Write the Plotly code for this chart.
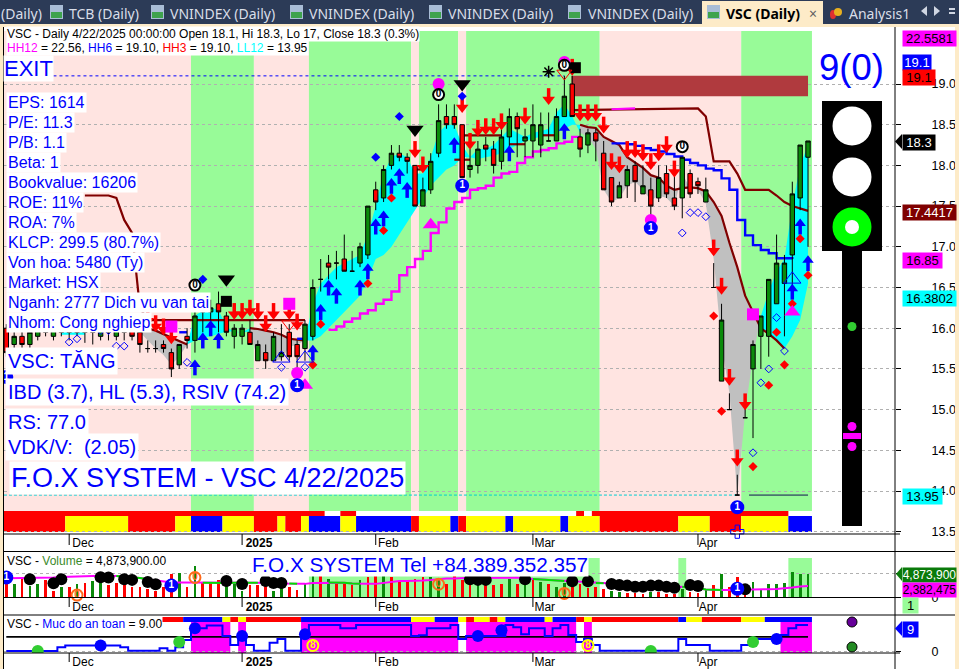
import plotly.graph_objects as go

W, H = 959, 669
def fx(px): return px / W
def fy(py): return 1 - py / H

# ---------- DATA ----------
opens = [16.0,15.8,15.9,15.8,15.9,16.05,15.9,16.0,15.95,16.0,
 15.95,16.0,15.9,16.05,15.9,16.05,16.0,15.95,15.75,15.75,
 15.8,15.7,15.55,15.9,15.85,16.25,16.2,16.3,16.15,15.9,
 15.9,15.95,15.6,15.7,15.6,15.65,15.95,15.8,15.75,15.9,
 16.6,16.8,16.8,16.85,16.7,16.8,16.9,17.7,17.6,18.0,
 18.15,18.1,18.0,17.5,17.7,18.15,18.6,18.6,18.5,17.95,
 18.0,18.25,18.2,18.05,18.35,18.6,18.3,18.3,18.25,18.3,
 18.3,18.6,19.0,18.35,18.25,18.4,18.15,17.85,17.6,17.75,
 18.0,17.65,17.7,17.6,17.9,17.6,17.6,17.9,17.8,17.55,
 16.5,15.35,15.0,13.95,14.9,15.5,15.9,15.9,16.3,16.55,
 16.9,17.6,18.1]
highs = [16.05,16.0,16.0,16.05,16.1,16.1,16.05,16.1,16.05,16.1,
 16.05,16.1,16.05,16.1,16.1,16.1,16.05,16.0,15.85,15.85,
 15.85,15.75,15.8,16.0,16.2,16.3,16.35,16.45,16.2,16.05,
 16.05,16.1,15.85,15.8,15.95,16.05,16.05,15.85,16.1,16.6,
 16.85,16.9,16.95,17.15,16.95,17.05,17.5,17.8,18.0,18.25,
 18.25,18.15,18.0,17.85,18.15,18.75,18.75,18.75,18.5,18.2,
 18.3,18.35,18.3,18.5,18.7,18.65,18.45,18.75,18.65,18.65,
 18.7,19.1,19.1,18.45,18.45,18.45,18.3,17.85,17.8,18.0,
 18.05,18.0,17.85,18.0,18.0,18.0,18.1,17.95,17.85,17.85,
 16.8,16.3,15.2,14.2,15.1,15.85,16.15,16.6,17.15,16.9,
 17.8,18.25,18.3]
lows = [15.65,15.7,15.7,15.7,15.85,15.9,15.85,15.9,15.85,15.9,
 15.82,15.8,15.85,15.85,15.85,15.85,15.85,15.7,15.7,15.7,
 15.7,15.4,15.5,15.75,15.7,15.95,16.05,15.95,15.9,15.75,
 15.8,15.8,15.6,15.5,15.6,15.6,15.6,15.45,15.6,15.85,
 16.45,16.6,16.6,16.7,16.7,16.75,16.85,17.45,17.55,17.95,
 18.05,17.9,17.5,17.5,17.65,18.1,18.45,18.45,17.85,17.85,
 17.9,18.05,17.9,17.95,18.2,18.1,18.1,18.1,18.1,18.3,
 18.3,18.6,18.6,18.1,18.15,18.05,17.7,17.5,17.6,17.6,
 17.55,17.65,17.3,17.55,17.6,17.45,17.35,17.6,17.65,17.55,
 16.5,15.35,15.0,13.95,14.9,14.65,15.5,15.65,16.3,15.9,
 16.5,17.45,17.0]
closes = [15.7,15.9,15.8,15.95,16.0,15.95,16.0,15.95,16.0,15.95,
 16.0,15.95,16.0,15.95,16.0,15.95,15.9,15.8,15.75,15.75,
 15.75,15.5,15.8,15.85,16.15,16.2,16.25,16.2,15.95,16.0,
 16.0,15.8,15.8,15.6,15.9,15.7,15.65,15.65,16.05,16.5,
 16.6,16.75,16.8,16.7,16.7,17.0,17.5,17.55,17.95,18.15,
 18.1,18.05,17.5,17.7,18.05,18.55,18.5,18.5,17.85,18.0,
 18.2,18.2,18.0,18.35,18.6,18.45,18.35,18.5,18.5,18.3,
 18.6,18.85,18.6,18.2,18.4,18.3,17.7,17.55,17.75,17.95,
 17.8,17.75,17.5,17.85,17.65,17.5,18.1,17.65,17.75,17.7,
 16.5,16.1,15.0,13.95,14.9,15.8,16.15,16.6,16.8,16.8,
 17.65,18.25,18.3]

volume_m = [5.02,2.93,3.97,2.37,2.79,3.62,1.53,2.23,2.23,2.79,
 3.07,3.49,3.97,2.58,3.07,3.28,2.23,2.23,1.88,1.53,
 2.23,5.02,5.16,2.23,6.55,3.28,3.28,3.76,2.93,2.93,
 1.39,2.58,2.58,2.58,1.53,2.93,2.23,1.74,2.93,4.46,
 4.46,3.97,3.28,2.93,2.58,3.62,4.32,4.67,4.81,4.32,
 3.28,3.62,3.97,4.32,4.32,3.62,2.93,4.67,3.62,2.58,
 3.0,3.28,2.58,2.93,3.97,2.93,2.93,3.76,3.28,2.93,
 2.23,3.07,2.23,2.93,2.02,2.23,1.88,1.39,1.18,1.05,
 1.05,0.84,1.18,1.18,0.84,0.84,1.88,1.18,0.98,1.88,
 2.58,5.02,2.23,4.32,2.58,3.28,1.67,2.93,2.93,3.14,
 5.37,4.88,4.8739]
volume_dir = list("rgrggrrgrg" "rggrrrrrrr" "rrgrgrrrgg"
                  "grrrggrrgg" "rgrrrgrrgr" "rrrrggrrrr"
                  "grrrgrgrgr" "ggrrrrrggr" "rrgrrrgrrg"
                  "rgrrrggggg" "ggg")
volume_avg = [3.97,3.97,3.97,4.0,4.0,4.05,4.1,4.2,4.3,4.3,
 4.35,4.4,4.45,4.45,4.4,4.3,4.2,4.0,3.75,3.55,
 3.3,3.1,3.1,3.1,3.05,3.05,3.0,3.0,3.0,3.05,
 3.05,3.05,3.05,3.05,3.0,2.9,2.9,2.8,2.8,3.0,
 3.0,3.1,3.1,3.05,2.9,2.8,2.8,2.8,3.0,3.2,
 3.4,3.4,3.4,3.5,3.6,3.8,3.9,3.9,4.0,4.05,
 4.0,4.05,4.05,4.1,4.1,4.1,3.9,3.8,3.75,3.55,
 3.5,3.4,3.3,3.25,3.1,3.0,2.95,2.9,2.85,2.8,
 2.7,2.6,2.55,2.5,2.4,2.3,2.2,2.1,1.9,1.65,
 1.55,1.55,1.55,1.55,1.55,1.6,1.65,1.7,1.75,1.85,
 2.05,2.25,2.38]
avg_green_runs = [(14,18),(25,32),(36,37),(41,45),(67,71),(75,76),(86,91)]

safety = [0.2,0.2,0.2,0.2,0.2,0.2,0.2,1.5,2.1,2.1,
 2.1,2.1,2.1,2.1,2.1,1.5,0.3,0.3,0.3,0.3,
 1.2,0.3,1.5,3.9,7.9,7.9,8.8,8.8,5.3,2.25,
 5.3,2.25,0.3,0.3,3.0,4.3,0.3,0.3,5.6,9,
 9,9,9,7.9,7.9,9,9,9,9,9,
 9,9,5.3,5.5,7.9,7.9,7.9,9,4.3,5.3,
 5.3,5.3,5.3,5.3,9,8.2,5.9,7.9,7.9,5.3,
 7.9,9,5.6,3.3,4.3,2.25,0.3,0.3,0.3,0.3,
 0.3,0.3,0.3,0.3,0.3,0.3,4.3,2.25,2.25,2.25,
 0.3,0.3,0.3,0.3,2.25,3.3,4.3,4.3,4.3,5.6,
 7.9,9,9]
safety_level = 5

N = None
ribbon_fast = [N,N,N,N,N,N,N,15.98,15.98,15.98,
 15.95,N,N,N,N,N,N,15.95,15.85,15.75,
 15.67,15.55,15.65,15.8,16.15,16.22,16.25,16.22,16.02,15.95,
 15.95,15.96,15.6,15.6,15.6,15.62,15.77,15.8,15.85,16.3,
 16.55,16.65,16.75,16.8,16.85,16.9,17.15,17.5,17.9,18.1,
 18.15,18.1,17.9,17.9,18.1,18.4,18.5,18.5,18.25,18.1,
 18.2,18.2,18.25,18.35,18.45,18.4,18.35,18.4,18.42,18.45,
 18.65,18.75,18.6,18.4,18.35,18.2,17.7,17.55,17.6,17.75,
 17.8,17.7,17.57,17.63,17.6,17.5,17.9,17.72,17.7,17.53,
 16.85,15.8,15.2,13.95,14.97,15.65,16.15,16.45,16.7,16.85,
 17.5,18.0,18.25]
ribbon_slow = [N,N,N,N,N,N,N,15.92,15.92,15.92,
 15.92,N,N,N,N,N,N,16.02,16.0,15.97,
 15.93,15.88,15.84,15.8,15.85,15.88,15.9,15.93,15.96,15.96,
 15.95,16.0,15.99,15.97,15.95,15.92,15.87,15.86,15.85,15.85,
 15.9,16.0,16.1,16.2,16.3,16.4,16.6,16.85,16.9,17.0,
 17.15,17.3,17.45,17.6,17.75,17.85,17.95,18.0,18.1,18.1,
 18.08,18.1,18.12,18.15,18.2,18.25,18.3,18.33,18.35,18.37,
 18.4,18.45,18.5,18.5,18.47,18.46,18.35,18.3,18.25,18.1,
 18.03,17.97,17.88,17.85,17.75,17.7,17.72,17.73,17.72,17.68,
 17.55,17.38,17.05,16.75,16.4,16.2,16.0,15.93,15.85,15.75,
 15.9,16.1,16.55]
ribbon_runs = [(7,10,"#00FFFF"),(17,23,"#C0C0C0"),(23,31,"#00FFFF"),(31,38,"#C0C0C0"),
               (38,73,"#00FFFF"),(73,96,"#C0C0C0"),(96,102,"#00FFFF")]

stop_i = [10,11,12,13,14,15,16,17,18,38]
stop_p = [17.63,17.63,17.63,17.63,17.6,17.33,17.17,16.25,16.1,16.1]
ceil_i = [72,88,89,90,92,93,94,97,98,99,100,102]
ceil_p = [18.68,18.7,18.6,18.05,18.05,17.9,17.7,17.7,17.63,17.55,17.5,17.4417]
ceil_magenta_i = [77,80]
ceil_magenta_p = [18.69,18.7]
short_levels = [(52,53,17.95),(57,59,18.07),(58,63,18.37),(64,66,18.26),(68,70,18.37)]
blue_i = list(range(77,101))
blue_p = [18.27,18.27,18.26,18.24,18.21,18.19,18.17,18.14,18.11,18.07,18.03,18.0,
          17.96,17.94,17.84,17.7,17.33,17.14,17.02,16.96,16.92,16.86,16.86,16.85]
blue_short = [(22,23,15.95),(37,38,15.87)]
trail_i = list(range(41,74))
trail_p = [15.98,16.02,16.08,16.12,16.18,16.22,16.3,16.35,16.45,16.65,16.75,16.85,
           16.95,17.17,17.3,17.47,17.55,17.6,17.7,17.72,17.75,17.85,17.9,17.92,18.03,
           18.1,18.17,18.19,18.21,18.27,18.29,18.35,18.36]

red_arrow_i = [18,19,20,21,29,30,31,32,33,34,36,37,52,53,58,59,60,61,62,63,66,69,72,73,74,75,76,77,78,79,80,81,82,83,84,85,90,91,92,93,94]
red_arrow_p = [16.02,15.95,15.91,15.8,16.1,16.1,16.14,16.1,15.95,16.1,16.1,15.97,18.09,17.9,18.64,18.19,18.35,18.37,18.37,18.43,18.5,18.74,19.1,18.54,18.54,18.54,18.39,17.94,17.9,18.09,18.09,18.05,17.94,18.05,18.15,17.85,16.88,16.41,15.29,14.3,14.99]
blue_arrow_i = [24,25,26,27,39,40,41,42,45,46,47,48,49,50,51,57,64,71,100,101,102]
blue_arrow_p = [15.62,15.95,16.1,15.95,15.8,16.3,16.6,16.5,16.6,16.8,17.35,17.45,17.85,17.97,17.8,18.35,18.25,18.52,16.55,17.35,16.9]
red_dia_i = [39,40,46,48,49,90,91,95,97,98,99,100,101,102]
red_dia_p = [15.55,16.05,16.55,17.2,17.6,16.15,14.98,14.3,15.3,15.95,15.55,16.3,17.1,16.65]
blue_dia_i = [21,25,47,50,58]
blue_dia_p = [16.02,16.6,18.1,18.6,18.85]
open_dia_i = [8,9,12,13,14,15,23,35,38,86,87,88,89,95,96,97,98,99]
open_dia_p = [15.83,15.87,15.97,15.97,15.78,15.78,15.58,15.52,15.52,17.17,17.42,17.42,17.37,14.47,15.33,15.5,16.13,15.72]
open_tri_i = [35,38,100]
open_tri_p = [15.63,15.63,16.6]
black_tri_i = [28,52,58]
black_tri_p = [16.6,18.44,19.0]
mag_tri_i = [38,54,100]
mag_tri_p = [15.3,17.27,16.2]
mag_sq_i = [21,36,95]
mag_sq_p = [16.02,16.3,16.17]
black_sq_i = [28,72.4]
black_sq_p = [16.33,19.2]
mag_dot_i = [37,55,71,82]
mag_dot_p = [15.45,19.0,19.27,17.33]
open_red_tri_i = [36,71]
open_red_tri_p = [16.05,19.13]
star_i = [69]
star_p = [19.15]
cross_i = [93]
cross_p = [13.5]
main_one_i = [0,37,58,82,93]
main_one_p = [15.4,15.3,17.75,17.23,13.8]
main_zero_i = [24,55,71,86]
main_zero_p = [16.53,18.87,19.23,18.23]

vol_dot_i = [3,6,7,12,13,15,16,18,19,28,30,33,34,35,59,60,61,66,72,74,77,78,79,80,81,82,83,84,85,87,88,94]
vol_dot_v = [3.76,2.93,3.76,4.18,4.11,3.76,3.62,3.2,2.72,3.41,2.79,3.41,3.0,3.0,3.76,3.62,3.62,3.76,3.35,3.35,2.79,2.58,2.44,2.23,2.23,2.44,2.44,2.23,2.02,2.58,2.37,1.67]
vol_one_i = [0,21,37,82,93]
vol_one_v = [4.1,2.44,-0.77,-1.46,1.81]
vol_zero_i = [9,24,55,71,86]
vol_zero_v = [0.49,4.11,2.72,0.84,-0.98]

saf_one_i = [0,21,37,58,82,93]
saf_zero_i = [9,24,55,71]
saf_nine_i = [39,86,100]
saf_label_v = -3
saf_eight_i = [39,74]
saf_eight_v = [2.1,2.1]
saf_green_i = [4,22,82,95]
saf_green_v = [0.2,3.3,0.2,3.3]
saf_blue_i = [12,24,30,38,60,63,98]
saf_blue_v = [2.1,7.9,5.3,5.9,5.3,7.2,4.3]

month_first_bar = [8,30,47,67,88]
month_label_pos = [9.76,32.15,48.6,68.5,89.3]
month_labels = ["Dec","<b>2025</b>","Feb","Mar","Apr"]
price_ticks = [13.5,14.0,14.5,15.0,15.5,16.0,16.5,17.0,17.5,18.0,18.5,19.0]

bg_runs = [(-0.35,23.5,"#FFE4E1"),(23.5,31.5,"#98FB98"),(31.5,38.5,"#FFE4E1"),(38.5,51.5,"#98FB98"),
           (51.5,52.5,"#FFE4E1"),(52.5,57.5,"#98FB98"),(57.5,58.5,"#FFE4E1"),(58.5,75.5,"#98FB98"),
           (75.5,93.5,"#FFE4E1"),(93.5,102.5,"#98FB98")]
R,Y,B = "#FF0000","#FFFF00","#0000FF"
strip_low = [(-0.3,7.5,R),(7.5,15.5,Y),(15.5,21.5,R),(21.5,23.5,Y),(23.5,27.5,B),(27.5,31.5,Y),(31.5,34.5,R),
             (34.5,35.5,Y),(35.5,37.5,R),(37.5,38.5,Y),(38.5,42.5,B),(42.5,44.5,Y),(44.5,51.5,B),(51.5,52.5,R),
             (52.5,56.5,Y),(56.5,57.5,B),(57.5,58.5,R),(58.5,63.5,Y),(63.5,64.5,B),(64.5,70.5,Y),(70.5,71.5,B),
             (71.5,75.5,Y),(75.5,85.5,R),(85.5,89.5,Y),(89.5,93.5,R),(93.5,99.5,Y),(99.5,102.5,B)]
strip_top = [(-0.3,40.5,R),(42.5,44.5,R),(72.5,73.5,R),(74.5,99.5,R)]
saf_strip = [(19.5,22.5,R),(22.5,27.5,B),(27.5,28.5,Y),(28.5,29.5,R),(29.5,30.5,Y),(30.5,37.5,R),(37.5,51.5,B),
             (51.5,54.5,Y),(54.5,57.5,B),(57.5,58.5,Y),(58.5,59.5,R),(59.5,61.5,Y),(61.5,62.5,R),(62.5,63.5,Y),
             (63.5,68.5,B),(68.5,69.5,Y),(69.5,72.5,B),(72.5,73.5,R),(73.5,74.5,Y),(74.5,85.5,R),(85.5,86.5,B),
             (86.5,88.5,Y),(88.5,93.5,R),(93.5,96.5,Y),(96.5,102.5,B)]
saf_magenta = [(23.5,28.5),(29.5,30.5),(37.5,57.5),(58.5,72.5),(73.5,74.5),(98.5,102.5)]
vol_green = [(38.5,75.5),(85.5,86.5),(99.5,102.5)]
zone_i = (71.9,102)
zone_p = (18.85,19.1)
exit_level = 19.1
low_level = 13.95

info_lines = [("EPS: 1614",102),("P/E: 11.3",122),("P/B: 1.1",142),("Beta: 1",162),("Bookvalue: 16206",182),
              ("ROE: 11%",202),("ROA: 7%",222),("KLCP: 299.5 (80.7%)",242),("Von hoa: 5480 (Ty)",262),
              ("Market: HSX",282),("Nganh: 2777 Dich vu van tai",302),("Nhom: Cong nghiep",322)]
big_lines = [("VSC: TĂNG",361,20),("IBD (3.7), HL (5.3), RSIV (74.2)",392,20),("RS: 77.0",422,20),("VDK/V:  (2.05)",447,20)]
tab_labels = [("(Daily)",0),("TCB (Daily)",68),("VNINDEX (Daily)",169),("VNINDEX (Daily)",308),("VNINDEX (Daily)",447),("VNINDEX (Daily)",587)]
tab_icons = [50,151,290,429,568,707]

# ---------- GEOMETRY ----------
def i_of(px): return (px - 6.3) / 7.86
def p_of(py): return 19 - (py - 84) / 81.4
XR = [i_of(4), i_of(895)]
YR = [p_of(534), p_of(27)]
VOLR = [0, 9.45]
SAFR = [(651.7-653)/2.97, (651.7-615)/2.97]
FONT = "Liberation Sans"

fig = go.Figure()
MAIN = dict(xaxis="x", yaxis="y")
CAND = dict(xaxis="x", yaxis="y4")
MARK = dict(xaxis="x", yaxis="y5")
VOL = dict(xaxis="x2", yaxis="y2")
SAF = dict(xaxis="x3", yaxis="y3")

# ribbons
for a, b, col in ribbon_runs:
    xs = list(range(a, b+1))
    fig.add_trace(go.Scatter(x=xs, y=ribbon_slow[a:b+1], mode="lines", line=dict(width=0), hoverinfo="skip", showlegend=False, **MAIN))
    fig.add_trace(go.Scatter(x=xs, y=ribbon_fast[a:b+1], mode="lines", line=dict(width=0), fill="tonexty", fillcolor=col, hoverinfo="skip", showlegend=False, **MAIN))

def line(xs, ys, color, width=2.2, shape="linear", dash=None, axes=MAIN):
    fig.add_trace(go.Scatter(x=xs, y=ys, mode="lines", line=dict(color=color, width=width, shape=shape, dash=dash),
                             hoverinfo="skip", showlegend=False, **axes))

# dark red line through the declines
dr = [ribbon_slow[i] if (17 <= i <= 23 or 31 <= i <= 38 or 73 <= i <= 99) else None for i in range(103)]
line(list(range(103)), dr, "#800000", 2.2)
line(stop_i, stop_p, "#800000", 2.2)
line(ceil_i, ceil_p, "#800000", 2.2)
line(ceil_magenta_i, ceil_magenta_p, "#FF00FF", 2.2)
for a, b, v in short_levels:
    line([a, b], [v, v], "#800000", 2.2)
line(blue_i, blue_p, "#0000FF", 2.4, shape="hv")
for a, b, v in blue_short:
    line([a, b], [v, v], "#0000FF", 2.4)
line(trail_i, trail_p, "#FF00FF", 2.4, shape="hv")
line([6, 71], [exit_level]*2, "#0000FF", 1, dash="3px,3px")
line([-0.3, 93], [low_level]*2, "#00CED1", 1, dash="3px,2px")
line([94.5, 102], [low_level]*2, "#101050", 1)

# candles
fig.add_trace(go.Candlestick(x=list(range(103)), open=opens, high=highs, low=lows, close=closes,
    increasing=dict(line=dict(color="#000000", width=1), fillcolor="#0A8A0A"),
    decreasing=dict(line=dict(color="#000000", width=1), fillcolor="#FF0000"),
    whiskerwidth=0, hoverinfo="skip", showlegend=False, **CAND))

# markers
def mark(xs, ys, symbol, color, size, lw=0, lc=None):
    fig.add_trace(go.Scatter(x=xs, y=ys, mode="markers", marker=dict(symbol=symbol, color=color, size=size,
        line=dict(width=lw, color=lc or color)), cliponaxis=False, hoverinfo="skip", showlegend=False, **MARK))

mark(red_arrow_i, [p+0.14 for p in red_arrow_p], "line-ns", "#FF0000", 8, 3.5, "#FF0000")
mark(red_arrow_i, [p+0.07 for p in red_arrow_p], "triangle-down", "#FF0000", 11)
mark(blue_arrow_i, [p-0.13 for p in blue_arrow_p], "line-ns", "#0000FF", 8, 3.5, "#0000FF")
mark(blue_arrow_i, [p-0.065 for p in blue_arrow_p], "triangle-up", "#0000FF", 10)
mark(red_dia_i, red_dia_p, "diamond", "#FF0000", 7)
mark(blue_dia_i, blue_dia_p, "diamond", "#0000FF", 7)
mark(open_dia_i, open_dia_p, "diamond-open", "#0000FF", 6, 1, "#0000FF")
mark(open_tri_i, open_tri_p, "triangle-up-open", "#0000FF", 15, 1, "#0000FF")
mark(black_tri_i, black_tri_p, "triangle-down", "#000000", 15)
mark(mag_tri_i, mag_tri_p, "triangle-up", "#FF00FF", 14)
mark(mag_sq_i, mag_sq_p, "square", "#FF00FF", 12)
mark(black_sq_i, black_sq_p, "square", "#000000", 11)
mark(mag_dot_i, mag_dot_p, "circle", "#FF00FF", 12)
mark(open_red_tri_i, open_red_tri_p, "triangle-down-open", "#FF0000", 13, 1, "#FF0000")
mark(star_i, star_p, "asterisk-open", "#000000", 10, 1.5, "#000000")
mark(cross_i, cross_p, "cross-open", "#0000FF", 11, 1, "#0000FF")

def nums(xs, ys, label, fill, ring, tcol, axes, size=12):
    fig.add_trace(go.Scatter(x=xs, y=ys, mode="markers+text", text=[label]*len(xs), textposition="middle center",
        textfont=dict(family=FONT, size=10, color=tcol),
        marker=dict(symbol="circle", size=size, color=fill, line=dict(color=ring, width=2)),
        cliponaxis=False, hoverinfo="skip", showlegend=False, **axes))

nums(main_one_i, main_one_p, "<b>1</b>", "#0000FF", "#0000FF", "#FFFFFF", MARK)
nums(main_zero_i, main_zero_p, "<b>0</b>", "#FFFFFF", "#000000", "#000000", MARK, 11)

# volume
fig.add_trace(go.Bar(x=list(range(103)), y=volume_m, width=0.34,
    marker=dict(color=["#FF0000" if d == "r" else "#0A8A0A" for d in volume_dir], line=dict(width=0)),
    hoverinfo="skip", showlegend=False, **VOL))
line(list(range(103)), volume_avg, "#FF00FF", 2, axes=VOL)
green_avg = [volume_avg[i] if any(a <= i <= b for a, b in avg_green_runs) else None for i in range(103)]
line(list(range(103)), green_avg, "#00E000", 2, axes=VOL)
fig.add_trace(go.Scatter(x=vol_dot_i, y=vol_dot_v, mode="markers", marker=dict(color="#000000", size=12),
                         hoverinfo="skip", showlegend=False, **VOL))
nums(vol_one_i, vol_one_v, "<b>1</b>", "#0000FF", "#0000FF", "#FFFFFF", VOL)
nums(vol_zero_i, vol_zero_v, "<b>0</b>", "rgba(0,0,0,0)", "#FF6A1A", "#FF6A1A", VOL, 11)

# safety
line([0, 102], [safety_level]*2, "#000000", 1.8, axes=SAF)
line(list(range(103)), safety, "#0000FF", 2, shape="hvh", axes=SAF)
fig.add_trace(go.Scatter(x=saf_green_i, y=saf_green_v, mode="markers", marker=dict(color="#32CD32", size=12), hoverinfo="skip", showlegend=False, **SAF))
fig.add_trace(go.Scatter(x=saf_blue_i, y=saf_blue_v, mode="markers", marker=dict(color="#0000FF", size=12), hoverinfo="skip", showlegend=False, **SAF))
nums(saf_one_i, [saf_label_v]*len(saf_one_i), "<b>1</b>", "#0000FF", "#0000FF", "#FFFFFF", SAF)
nums(saf_zero_i, [saf_label_v]*len(saf_zero_i), "<b>0</b>", "#FFFFFF", "#FF6A1A", "#FF6A1A", SAF, 11)
nums(saf_nine_i, [saf_label_v]*len(saf_nine_i), "<b>9</b>", "#000000", "#000000", "#FFFFFF", SAF)
nums(saf_eight_i, saf_eight_v, "<b>8</b>", "rgba(0,0,0,0)", "#FFFF00", "#FFFF00", SAF, 11)

# ---------- SHAPES ----------
shapes = []
def rect(x0, x1, y0, y1, color, xref="paper", yref="paper", layer="between"):
    shapes.append(dict(type="rect", x0=x0, x1=x1, y0=y0, y1=y1, xref=xref, yref=yref, fillcolor=color,
                       line=dict(width=0), layer=layer))
def prect(x0, x1, y0, y1, color, layer="above"):
    rect(fx(x0), fx(x1), fy(y1), fy(y0), color, layer=layer)
def pline(x0, x1, y0, y1, color="#000000", w=1):
    shapes.append(dict(type="line", x0=fx(x0), x1=fx(x1), y0=fy(y0), y1=fy(y1), xref="paper", yref="paper",
                       line=dict(color=color, width=w), layer="above"))
def pcircle(cx, cy, r, color, lc=None):
    shapes.append(dict(type="circle", x0=fx(cx-r), x1=fx(cx+r), y0=fy(cy+r), y1=fy(cy-r), xref="paper", yref="paper",
                       fillcolor=color, line=dict(width=1 if lc else 0, color=lc or color), layer="above"))
def pointer(x0, x1, y0, y1, color):
    ym = (y0+y1)/2
    shapes.append(dict(type="path", xref="paper", yref="paper", fillcolor=color, line=dict(width=0), layer="above",
        path=f"M {fx(x0)} {fy(ym)} L {fx(x1)} {fy(y0)} L {fx(x1)} {fy(y1)} Z"))

for a, b, c in bg_runs:
    rect(a, b, fy(511), fy(31), c, xref="x")
for a, b, c in strip_low:
    rect(a, b, fy(532), fy(516), c, xref="x")
for a, b, c in strip_top:
    rect(a, b, fy(516), fy(511), c, xref="x")
rect(zone_i[0], zone_i[1], zone_p[0], zone_p[1], "#B03A3E", xref="x", yref="y")
for a, b in vol_green:
    rect(a, b, fy(597), fy(558), "#98FB98", xref="x")
for a, b, c in saf_strip:
    rect(a, b, fy(622), fy(617), c, xref="x")
for a, b in saf_magenta:
    rect(a, b, fy(653), fy(622), "#FF00FF", xref="x")

# month ticks
for b in month_first_bar:
    for y0, y1 in ((534, 545), (597.5, 607), (653, 662)):
        shapes.append(dict(type="line", x0=b, x1=b, y0=fy(y1), y1=fy(y0), xref="x", yref="paper",
                           line=dict(color="#000000", width=1), layer="above"))

# tab bar & window frame
prect(0, W, 0, 24, "#2C3B57")
prect(0, W, 24, 27, "#FDEBC8")
prect(0, 3, 24, H, "#FDEBC8")
prect(955, W, 24, H, "#FDEBC8")
prect(702, 823, 1, 27, "#FDEBC8")
for x in tab_icons:
    prect(x, x+13, 5, 19, "#A9BDD6")
    prect(x+1, x+12, 12, 18, "#3FA34D")
shapes.append(dict(type="path", xref="paper", yref="paper", fillcolor="#D0D6E2", line=dict(width=0), layer="above",
    path=f"M {fx(921)} {fy(11)} L {fx(927)} {fy(6)} L {fx(927)} {fy(16)} Z"))
shapes.append(dict(type="path", xref="paper", yref="paper", fillcolor="#D0D6E2", line=dict(width=0), layer="above",
    path=f"M {fx(940)} {fy(11)} L {fx(934)} {fy(6)} L {fx(934)} {fy(16)} Z"))
prect(949, 955, 8, 10, "#D0D6E2")
prect(949, 955, 12, 14, "#D0D6E2")
shapes.append(dict(type="circle", xref="paper", yref="paper", x0=fx(830), x1=fx(836), y0=fy(19), y1=fy(10), fillcolor="#E03030", line=dict(width=0), layer="above"))
shapes.append(dict(type="circle", xref="paper", yref="paper", x0=fx(834), x1=fx(842), y0=fy(16), y1=fy(8), fillcolor="#E8B020", line=dict(width=0), layer="above"))

# panel rules
pline(3, 900, 534, 534)
pline(3, 955, 551.5, 551.5)
pline(3, 900, 597.5, 597.5)
pline(3, 955, 615, 615)
pline(3, 900, 653, 653)
pline(895, 895, 27, H)
pline(3.5, 3.5, 27, H)

# traffic light
prect(822, 882, 101, 251, "#000000")
prect(842, 862, 251, 526, "#000000")
pcircle(852, 126, 19.5, "#FFFFFF")
pcircle(852, 177, 19.5, "#FFFFFF")
pcircle(852, 227, 19.5, "#00FF00")
pcircle(852, 227, 7, "#FFFFFF")
pcircle(852, 326.5, 4.5, "#32CD32")
pcircle(852, 426.5, 4.5, "#FF00FF")
pcircle(852, 446.5, 4.5, "#FF00FF")
prect(843, 861, 433, 439, "#FF00FF")
pcircle(852, 622, 5, "#660099", "#000000")
pcircle(852, 647, 5, "#228B22", "#000000")
pointer(895, 902, 134, 149, "#000000")
pointer(896, 902, 567, 581, "#0A7A0A")
pointer(895, 902, 621, 636, "#0000FF")

# ---------- TEXT ----------
ann = []
def txt(x, y, s, size=12, color="#000000", bg=None, anchor="left", bold=False, family=FONT, pad=0):
    ann.append(dict(x=fx(x), y=fy(y), xref="paper", yref="paper", text=f"<b>{s}</b>" if bold else s, showarrow=False,
                    xanchor=anchor, yanchor="middle", bgcolor=bg or "rgba(0,0,0,0)", borderpad=pad,
                    font=dict(family=family, size=size, color=color)))
def box(x0, x1, y0, y1, s, bg, color, size=13):
    ann.append(dict(x=fx(x0), y=fy(y0), xref="paper", yref="paper", text=s, showarrow=False, xanchor="left", yanchor="top",
                    width=x1-x0, height=y1-y0, bgcolor=bg, borderpad=0, align="center", valign="middle",
                    font=dict(family=FONT, size=size, color=color)))

BLUE = "#0000FF"
txt(6, 34, "VSC - Daily 4/22/2025 00:00:00 Open 18.1, Hi 18.3, Lo 17, Close 18.3 (0.3%)", 12, bg="#FFFFFF")
txt(6, 48, "<span style='color:#FF00FF'>HH12</span> = 22.56, <span style='color:#0000FF'>HH6</span> = 19.10, "
           "<span style='color:#FF0000'>HH3</span> = 19.10, <span style='color:#00FFFF'>LL12</span> = 13.95", 12, bg="#FFFFFF")
txt(3, 68, "EXIT", 22, BLUE, "#FFFFFF")
for s, y in info_lines:
    txt(6, y, s, 16, BLUE, "#FFFFFF", pad=1)
for s, y, sz in big_lines:
    txt(5, y, s, sz, BLUE, "#FFFFFF", pad=2)
txt(9, 478, "F.O.X SYSTEM - VSC 4/22/2025", 27, BLUE, "#FFFFFF", pad=1)
txt(251, 564, "F.O.X SYSTEM Tel +84.389.352.357", 20.7, BLUE, "#FFFFFF")
txt(818, 67, "9(0)", 36.5, BLUE)
txt(6, 561, "VSC - <span style='color:#3A8A2A'>Volume</span> = 4,873,900.00", 12, bg="#FFFFFF")
txt(6, 624, "VSC - <span style='color:#0000FF'>Muc do an toan</span> = 9.00", 12, bg="#FFFFFF")
TABC = "#D9DEE8"
TF = "Noto Sans"
for s, x in tab_labels:
    txt(x, 13, s, 14, TABC, family=TF)
txt(725, 13, "VSC (Daily)", 14, "#000000", bold=True, family=TF)
txt(813, 13, "×", 14, "#606060", anchor="center", family=TF)
txt(848, 13, "Analysis1", 14, TABC, family=TF)

box(902, 955, 30, 45, "22.5581", "#FF00FF", "#000000")
box(902, 930, 54, 69, "19.1", "#0000FF", "#FFFFFF")
box(902, 934, 69, 84, "19.1", "#FF0000", "#000000")
box(902, 934, 134, 149, "18.3", "#000000", "#FFFFFF")
box(902, 955, 204, 219, "17.4417", "#7F0000", "#FFFFFF")
box(902, 941, 252, 267, "16.85", "#FF00FF", "#000000")
box(902, 955, 290, 305, "16.3802", "#00FFFF", "#000000")
box(902, 941, 488, 503, "13.95", "#00FFFF", "#000000")
box(902, 955, 567, 581, "4,873,900", "#0A7A0A", "#FFFFFF", 12)
box(902, 955, 582, 596, "2,382,475", "#FF00FF", "#000000", 12)
box(902, 917, 597, 612, "1", "#98FB98", "#000000")
box(902, 917, 621, 636, "9", "#0000FF", "#FFFFFF")

# ---------- LAYOUT ----------
xbase = dict(range=XR, domain=[fx(4), fx(895)], tickmode="array", tickvals=month_label_pos, ticktext=month_labels,
             ticklen=0, showgrid=False, zeroline=False, showline=False, tickangle=0, automargin=False,
             tickfont=dict(family=FONT, size=12, color="#000000"), rangeslider=dict(visible=False))
ybase = dict(side="right", showline=False, zeroline=False, ticks="outside", ticklen=5, tickcolor="#000000",
             gridcolor="#B0B0B0", griddash="dot", gridwidth=1, ticklabelstandoff=28, automargin=False,
             tickfont=dict(family=FONT, size=12.5, color="#000000"))
fig.update_layout(
    width=W, height=H, margin=dict(l=0, r=0, t=0, b=0), autosize=False, showlegend=False,
    paper_bgcolor="#FFFFFF", plot_bgcolor="#FFFFFF", boxgap=0.2, bargap=0, barmode="overlay",
    shapes=shapes, annotations=ann,
    xaxis=dict(xbase, anchor="y"),
    xaxis2=dict(xbase, anchor="y2", matches="x"),
    xaxis3=dict(xbase, anchor="y3", matches="x"),
    yaxis=dict(ybase, domain=[fy(534), fy(27)], range=YR, anchor="x", tickmode="array",
               tickvals=price_ticks, ticktext=[f"{v:.1f}" for v in price_ticks]),
    yaxis2=dict(ybase, domain=[fy(597.5), fy(551.5)], range=VOLR, anchor="x2", tickmode="array",
                tickvals=[0, 4.8739], ticktext=["0", ""]),
    yaxis3=dict(ybase, domain=[fy(653), fy(615)], range=SAFR, anchor="x3", tickmode="array",
                tickvals=[0], ticktext=["0"]),
    yaxis4=dict(overlaying="y", range=YR, visible=False, anchor="x", automargin=False),
    yaxis5=dict(overlaying="y", range=YR, visible=False, anchor="x", automargin=False),
)
fig.write_html("out.html", config=dict(displayModeBar=False),
               post_script="document.body.style.margin='0';document.body.style.overflow='hidden';")
